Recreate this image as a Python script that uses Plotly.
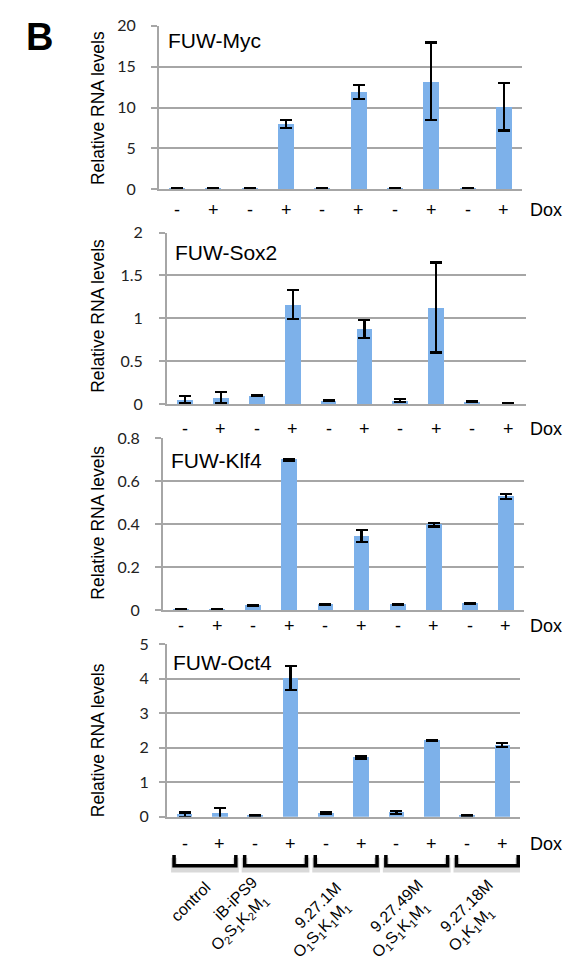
import plotly.graph_objects as go

# ---------------- data ----------------
dox = ["-", "+", "-", "+", "-", "+", "-", "+", "-", "+"]
positions = list(range(10))

myc_vals = [0.1, 0.1, 0.1, 8.0, 0.1, 11.9, 0.1, 13.2, 0.1, 10.1]
myc_err = [0.05, 0.05, 0.05, 0.5, 0.05, 0.9, 0.05, 4.75, 0.05, 2.9]

sox2_vals = [0.05, 0.08, 0.10, 1.16, 0.04, 0.875, 0.04, 1.125, 0.03, 0.005]
sox2_err = [0.04, 0.065, 0.004, 0.165, 0.005, 0.105, 0.02, 0.525, 0.004, 0.003]

klf4_vals = [0.002, 0.002, 0.02, 0.70, 0.026, 0.345, 0.026, 0.397, 0.03, 0.53]
klf4_err = [0.001, 0.001, 0.003, 0.004, 0.003, 0.028, 0.003, 0.008, 0.003, 0.012]

oct4_vals = [0.06, 0.10, 0.03, 4.02, 0.10, 1.72, 0.12, 2.21, 0.03, 2.08]
oct4_err = [0.06, 0.15, 0.01, 0.35, 0.02, 0.03, 0.04, 0.02, 0.01, 0.05]

myc_ticks = [0, 5, 10, 15, 20]
sox2_ticks = [0, 0.5, 1, 1.5, 2]
klf4_ticks = [0, 0.2, 0.4, 0.6, 0.8]
oct4_ticks = [0, 1, 2, 3, 4, 5]

group_names = ["control", "iB-iPS9", "9.27.1M", "9.27.49M", "9.27.18M"]
group_factors = [
    "",
    "O<sub>2</sub>S<sub>1</sub>K<sub>2</sub>M<sub>1</sub>",
    "O<sub>1</sub>S<sub>1</sub>K<sub>1</sub>M<sub>1</sub>",
    "O<sub>1</sub>S<sub>1</sub>K<sub>1</sub>M<sub>1</sub>",
    "O<sub>1</sub>K<sub>1</sub>M<sub>1</sub>",
]

# ---------------- layout helpers ----------------
W, H = 566, 960
def px(x):
    return x / W
def py(y):
    return 1 - y / H

GRID = "#A6A6A6"
BAR = "#7DB1EA"
TXT = "Liberation Sans, Arial, sans-serif"
TICKF = "Lato, sans-serif"

panels = [
    dict(name="FUW-Myc", vals=myc_vals, err=myc_err, ticks=myc_ticks,
         xdom=(159, 522), ydom=(16, 183), doxy=204, namepos=(166, 31), ytc=100, standoff=12),
    dict(name="FUW-Sox2", vals=sox2_vals, err=sox2_err, ticks=sox2_ticks,
         xdom=(167, 526), ydom=(227, 402), doxy=427, namepos=(173, 247), ytc=312, standoff=13),
    dict(name="FUW-Klf4", vals=klf4_vals, err=klf4_err, ticks=klf4_ticks,
         xdom=(163, 524), ydom=(437, 612), doxy=628, namepos=(169, 460), ytc=523, standoff=12),
    dict(name="FUW-Oct4", vals=oct4_vals, err=oct4_err, ticks=oct4_ticks,
         xdom=(167, 520), ydom=(647, 823), doxy=851, namepos=(171, 666), ytc=745, standoff=7),
]

fig = go.Figure()
annotations = []
layout_axes = {}

for i, p in enumerate(panels, start=1):
    xa = "x" if i == 1 else f"x{i}"
    ya = "y" if i == 1 else f"y{i}"
    fig.add_trace(go.Bar(
        x=positions, y=p["vals"], xaxis=xa, yaxis=ya,
        width=0.44, marker=dict(color=BAR, line=dict(width=0)),
        error_y=dict(type="data", array=p["err"], visible=True,
                     color="black", thickness=2.2, width=6),
        showlegend=False,
    ))
    tk = p["ticks"]
    layout_axes["xaxis" if i == 1 else f"xaxis{i}"] = dict(
        domain=[px(p["xdom"][0]), px(p["xdom"][1])],
        range=[-0.5, 9.5], anchor=ya,
        showgrid=False, zeroline=False, showticklabels=False, ticks="",
        showline=True, linecolor=GRID, linewidth=2, fixedrange=True,
    )
    layout_axes["yaxis" if i == 1 else f"yaxis{i}"] = dict(
        domain=[py(p["ydom"][1]), py(p["ydom"][0])],
        range=[0, tk[-1]], anchor=xa,
        tickvals=tk, ticktext=[f"{t:g}" for t in tk],
        showgrid=True, gridcolor=GRID, gridwidth=2,
        zeroline=False, showline=True, linecolor=GRID, linewidth=2,
        ticks="outside", ticklen=6, tickwidth=2, tickcolor=GRID,
        ticklabelstandoff=p["standoff"],
        tickfont=dict(family=TICKF, size=16, color="#222222"),
        fixedrange=True,
    )
    annotations.append(dict(
        text=p["name"], xref="paper", yref="paper",
        x=px(p["namepos"][0]), y=py(p["namepos"][1]),
        xanchor="left", yanchor="middle", showarrow=False,
        font=dict(family=TXT, size=21, color="black"),
    ))
    annotations.append(dict(
        text="Relative RNA levels", xref="paper", yref="paper",
        x=px(98), y=py(p["ytc"]), textangle=-90,
        xanchor="center", yanchor="middle", showarrow=False,
        font=dict(family=TXT, size=17.5, color="black"),
    ))
    for pos, s in zip(positions, dox):
        annotations.append(dict(
            text=s, xref=xa, yref="paper", x=pos, y=py(p["doxy"]),
            xanchor="center", yanchor="middle", showarrow=False,
            font=dict(family=TXT, size=18, color="black"),
        ))
    annotations.append(dict(
        text="Dox", xref="paper", yref="paper", x=px(528), y=py(p["doxy"]),
        xanchor="left", yanchor="middle", showarrow=False,
        font=dict(family=TXT, size=18, color="black"),
    ))

# brackets under the bottom panel (one per group of two bars)
shapes = []
top_y, bot_y = py(862), py(873)
for g in range(5):
    a = positions[2 * g] - 0.3
    b = positions[2 * g + 1] + 0.45
    path_shadow = f"M {a},{top_y - 0.003} L {a},{bot_y - 0.004} L {b},{bot_y - 0.004} L {b},{top_y - 0.003}"
    shapes.append(dict(type="path", xref="x4", yref="paper", path=path_shadow,
                       line=dict(color="rgba(0,0,0,0.15)", width=6)))
    path = f"M {a},{top_y} L {a},{bot_y} L {b},{bot_y} L {b},{top_y}"
    shapes.append(dict(type="path", xref="x4", yref="paper", path=path,
                       line=dict(color="black", width=3.5)))

# rotated group labels (two lines placed separately)
label_centers = [(191, 910), (243, 914), (325, 921), (404, 921), (474, 921)]
for name, fac, (cx, cy) in zip(group_names, group_factors, label_centers):
    if not fac:
        lines = [(name, cx, cy)]
    else:
        lines = [(name, cx - 7.4, cy - 7.4), (fac, cx - 2.6, cy + 17.4)]
    for txt, lx, ly in lines:
        annotations.append(dict(
            text=txt, xref="paper", yref="paper", x=px(lx), y=py(ly),
            xanchor="center", yanchor="middle", textangle=-45,
            showarrow=False, font=dict(family=TXT, size=16, color="black"),
        ))

# panel letter
annotations.append(dict(
    text="<b>B</b>", xref="paper", yref="paper", x=px(39), y=py(28),
    xanchor="center", yanchor="middle", showarrow=False,
    font=dict(family=TXT, size=38, color="black"),
))

fig.update_layout(
    width=W, height=H, margin=dict(l=0, r=0, t=0, b=0),
    paper_bgcolor="white", plot_bgcolor="white",
    annotations=annotations, shapes=shapes, bargap=0,
    **layout_axes,
)

fig.write_html(
    "out.html",
    config={"displayModeBar": False},
    post_script="document.body.style.margin='0';document.body.style.overflow='hidden';",
)
